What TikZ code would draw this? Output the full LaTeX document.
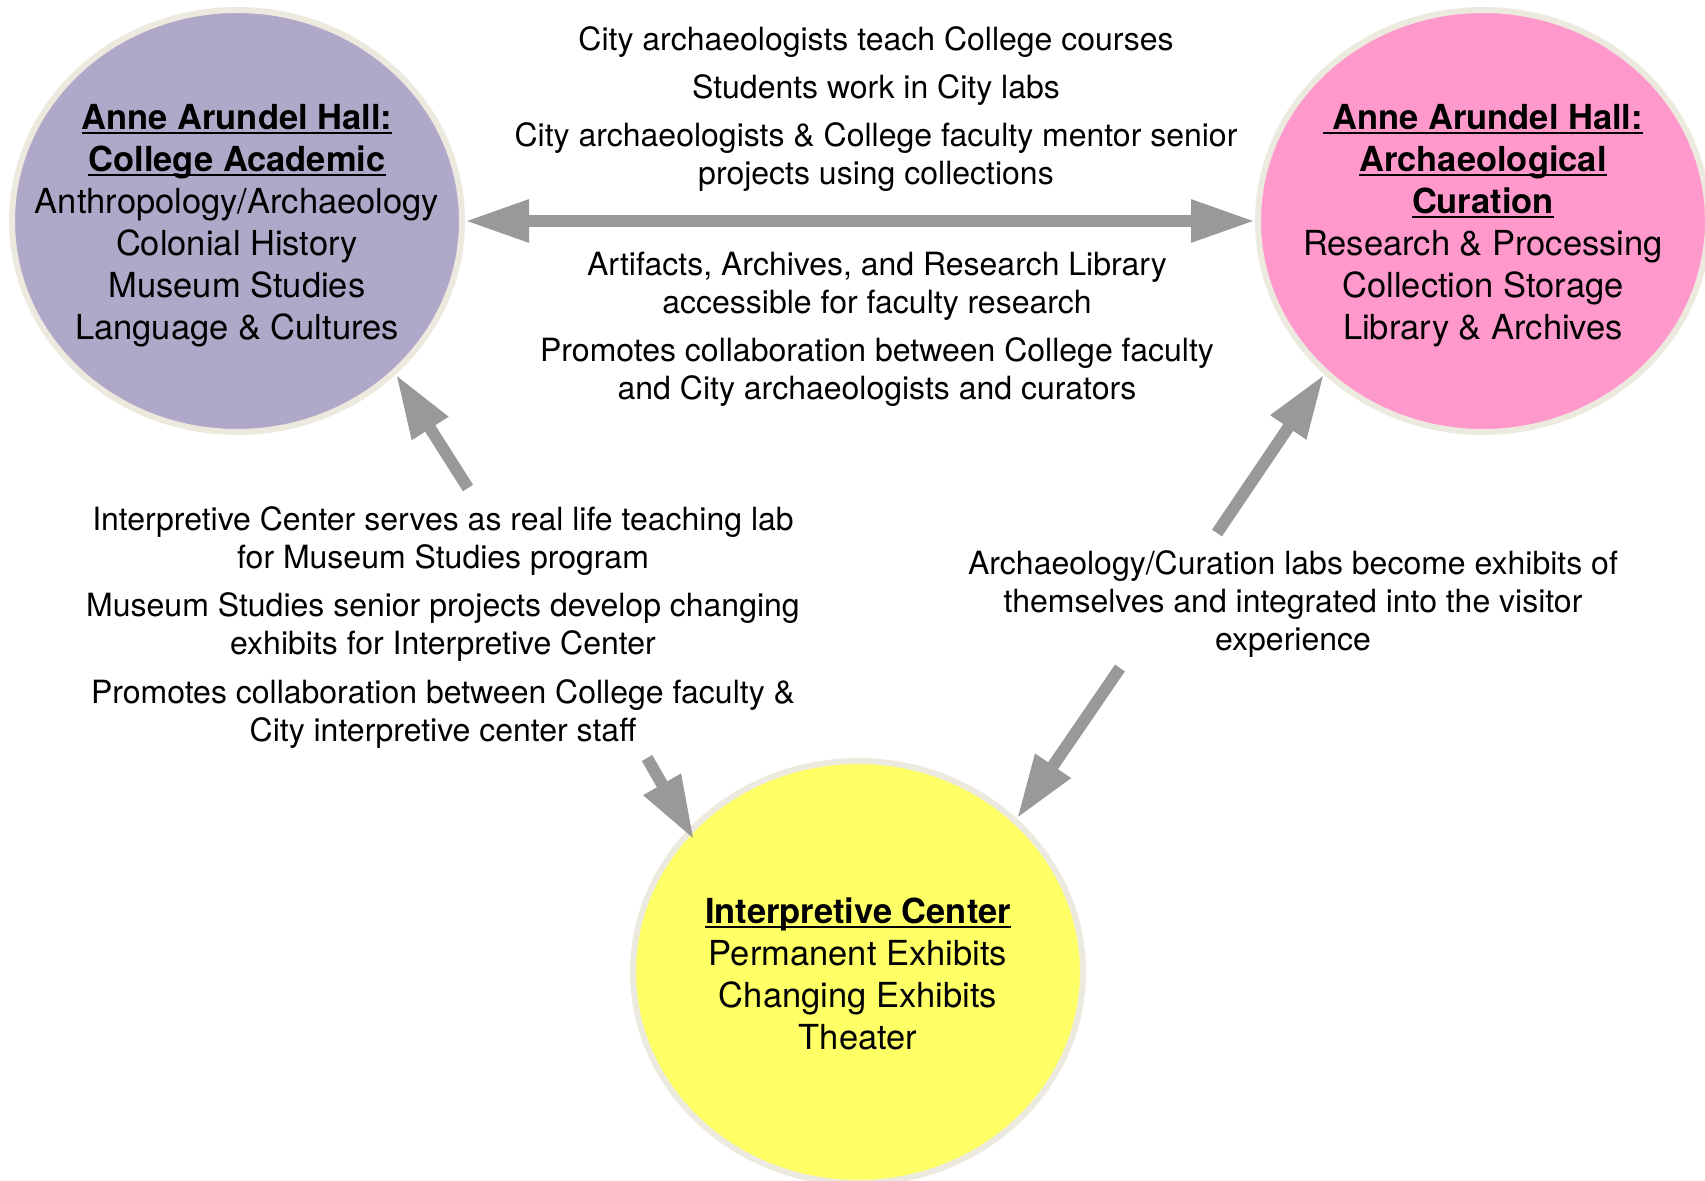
\documentclass[tikz,border=0pt]{standalone}
\usepackage{fontspec}
\setmainfont{TeX Gyre Heros}
\usetikzlibrary{arrows.meta,shapes.geometric}

\newcommand{\hallul}[1]{\setbox0\hbox{#1}\rlap{\rule[-2.2pt]{\wd0}{1.1pt}}\box0}

\definecolor{acadfill}{HTML}{B0A8C8}
\definecolor{curfill}{HTML}{FF99CC}
\definecolor{interfill}{HTML}{FFFF66}
\definecolor{rimgray}{HTML}{ECEADF}
\definecolor{linkgray}{HTML}{999999}

\begin{document}
\begin{tikzpicture}[x=0.5pt, y=-0.5pt]
    \tikzset{
        hall/.style = {ellipse, minimum width=225pt, minimum height=211pt, inner sep=0pt, line width=3pt, draw=rimgray},
        halltext/.style = {align=center, inner sep=0pt, font=\fontsize{17.25}{21}\selectfont},
        note/.style = {align=center, inner sep=0pt, font=\fontsize{16}{19}\selectfont},
        link/.style = {line width=6pt, draw=linkgray, -{Triangle[length=32pt, width=20pt]}},
        twolink/.style = {link, {Triangle[length=32pt, width=20pt]}-{Triangle[length=32pt, width=20pt]}}
    }
    \clip (0,0) rectangle (1705,1181);

    \node (acad) [hall, fill=acadfill] at (237,221) {};
    \node (cur) [hall, fill=curfill] at (1483,221) {};
    \node (inter) [hall, fill=interfill] at (858,972) {};

    \node (acadtext) [halltext] at (237,226) {\hallul{\textbf{Anne Arundel Hall:}}\\ \hallul{\textbf{College Academic}}\\
        Anthropology/Archaeology\\ Colonial History\\ Museum Studies\\ Language \& Cultures};
    \node (curtext) [halltext] at (1483,226) {\hallul{\textbf{\ Anne Arundel Hall:}}\\ \hallul{\textbf{Archaeological}}\\ \hallul{\textbf{Curation}}\\
        Research \& Processing\\ Collection Storage\\ Library \& Archives};
    \node (intertext) [halltext] at (858,974) {\hallul{\textbf{Interpretive Center}}\\ Permanent Exhibits\\ Changing Exhibits\\ Theater};

    % between the two halls
    \node (teach) [note] at (876,42) {City archaeologists teach College courses};
    \node (labs) [note] at (876,90) {Students work in City labs};
    \node (mentor) [note] at (876,157) {City archaeologists \& College faculty mentor senior\\ projects using collections};
    \node (access) [note] at (877,286) {Artifacts, Archives, and Research Library\\ accessible for faculty research};
    \node (collab) [note] at (877,372) {Promotes collaboration between College faculty\\ and City archaeologists and curators};

    % college and interpretive center
    \node (tlab) [note] at (443,541) {Interpretive Center serves as real life teaching lab\\ for Museum Studies program};
    \node (senior) [note] at (443,627) {Museum Studies senior projects develop changing\\ exhibits for Interpretive Center};
    \node (staff) [note] at (443,714) {Promotes collaboration between College faculty \&\\ City interpretive center staff};

    % curation and interpretive center
    \node (exhibit) [note] at (1293,604) {Archaeology/Curation labs become exhibits of\\ themselves and integrated into the visitor\\ experience};

    \coordinate (tlabtop) at (468,488);
    \coordinate (stafftail) at (647,758);
    \coordinate (exhtop) at (1217,533);
    \coordinate (exhbot) at (1120,668);

    \draw [twolink] (acad) -- (cur);
    \draw [link] (tlabtop) -- (acad.-44);
    \draw [link, shorten >=-6pt] (stafftail) -- (inter.140);
    \draw [link] (exhtop) -- (cur.-136);
    \draw [link] (exhbot) -- (inter.44);
\end{tikzpicture}
\end{document}
